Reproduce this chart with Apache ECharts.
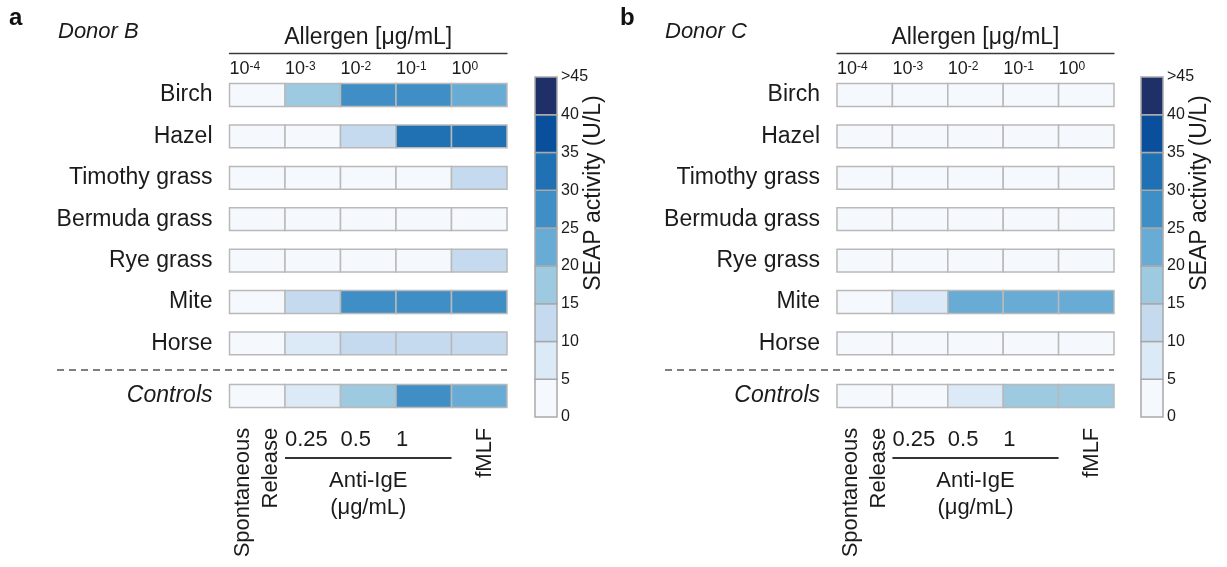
<!DOCTYPE html>
<html><head><meta charset="utf-8">
<script src="https://cdn.jsdelivr.net/npm/echarts@6/dist/echarts.min.js"></script>
<style>html,body{margin:0;padding:0;background:#fff}#c{width:1227px;height:567px}</style>
</head><body><div id="c"></div>
<script>
// ---------------- data ----------------
const allergens = ['Birch', 'Hazel', 'Timothy grass', 'Bermuda grass', 'Rye grass', 'Mite', 'Horse'];
const concExponents = ['-4', '-3', '-2', '-1', '0'];
const controlRow = ['Controls'];
const antiIgeLabels = ['0.25', '0.5', '1'];          // control columns 2..4
const rotatedControlLabels = ['Spontaneous\nRelease', 'fMLF']; // control columns 1 and 5
// SEAP activity (U/L), rows = allergens, columns = 10^-4 .. 10^0 µg/mL
const donorB = [
  [2, 17, 27, 27, 22],
  [2, 3, 12, 32, 33],
  [1, 2, 2, 3, 12],
  [1, 1, 2, 2, 2],
  [2, 2, 2, 3, 12],
  [3, 13, 28, 28, 28],
  [3, 8, 12, 13, 12]
];
const donorBControls = [2, 8, 18, 28, 23];
const donorC = [
  [1, 1, 2, 1, 2],
  [1, 2, 1, 2, 2],
  [1, 1, 1, 2, 2],
  [1, 1, 1, 1, 1],
  [1, 1, 2, 1, 2],
  [2, 8, 23, 22, 23],
  [1, 2, 2, 2, 2]
];
const donorCControls = [1, 2, 8, 17, 17];
const scaleBreaks = [0, 5, 10, 15, 20, 25, 30, 35, 40, 45];
const scaleColors = ['#f5f9fe', '#dce9f6', '#c5daee', '#9dc9e1', '#68acd6', '#3f8fc6', '#2070b4', '#0a4f9b', '#1f3068'];

// ---------------- layout ----------------
const FONT = '"Liberation Sans", Arial, Helvetica, sans-serif';
const TXT = '#1b1b1b';
const ROW_TOP = 74.3, BAND = 41.4, CTRL_TOP = 375.3, CB_TOP = 77, CB_H = 340, CB_W = 22, CELL_FRAC = 0.55;
const panels = [
  { hmLeft: 229.5, hmWidth: 277.5, cbLeft: 535, letter: 'a', letterX: 9, donor: 'Donor B', donorX: 58, dashX0: 57, data: donorB, ctrl: donorBControls },
  { hmLeft: 837, hmWidth: 277, cbLeft: 1141, letter: 'b', letterX: 620, donor: 'Donor C', donorX: 665, dashX0: 665, data: donorC, ctrl: donorCControls }
];

function cellRender(params, api) {
  const c = api.value(0), r = api.value(1);
  const p0 = api.coord([c, r]);
  const p1 = api.coord([c + 1, r]);
  const h = api.size([0, 1])[1] * CELL_FRAC;
  return {
    type: 'rect',
    shape: { x: p0[0], y: p0[1] - h / 2, width: p1[0] - p0[0], height: h },
    style: { fill: api.visual('color'), stroke: '#b9b9b9', lineWidth: 1.5 }
  };
}
function barRender(params, api) {
  const lo = api.value(1), hi = api.value(2), idx = api.value(3);
  const p0 = api.coord([0, lo]);
  const p1 = api.coord([0, hi]);
  const w = api.size([1, 0])[0];
  return {
    type: 'rect',
    shape: { x: p0[0] - w / 2, y: p1[1], width: w, height: p0[1] - p1[1] },
    style: { fill: scaleColors[idx], stroke: '#a9a9a9', lineWidth: 1.5 }
  };
}

const grid = [], xAxis = [], yAxis = [], series = [], graphic = [], heatSeries = [];
panels.forEach((p, k) => {
  const g0 = grid.length;
  grid.push({ left: p.hmLeft, top: ROW_TOP, width: p.hmWidth, height: BAND * allergens.length, outerBoundsMode: 'none', containLabel: false });
  grid.push({ left: p.hmLeft, top: CTRL_TOP, width: p.hmWidth, height: BAND, outerBoundsMode: 'none', containLabel: false });
  grid.push({ left: p.cbLeft, top: CB_TOP, width: CB_W, height: CB_H, outerBoundsMode: 'none', containLabel: false });

  const x0 = xAxis.length;
  // allergen concentration axis (top)
  xAxis.push({
    type: 'value', gridIndex: g0, min: 0, max: 5, interval: 1, position: 'top', offset: 21,
    axisLine: { show: true, onZero: false, lineStyle: { color: '#3a3a3a', width: 1.3 } },
    axisTick: { show: false }, splitLine: { show: false },
    axisLabel: {
      inside: true, margin: 7, align: 'left', showMinLabel: true, showMaxLabel: true,
      formatter: v => (v < 5 ? '{b|10}{s|' + concExponents[v] + '}' : ''),
      rich: {
        b: { fontSize: 18, fontFamily: FONT, color: TXT },
        s: { fontSize: 12, fontFamily: FONT, color: TXT, verticalAlign: 'top', lineHeight: 10 }
      }
    },
    name: 'Allergen [μg/mL]', nameLocation: 'middle', nameGap: 4, nameMoveOverlap: false,
    nameTextStyle: { fontSize: 23, fontFamily: FONT, color: TXT, verticalAlign: 'bottom' }
  });
  // control labels, rotated
  xAxis.push({
    type: 'value', gridIndex: g0 + 1, min: 0, max: 5, interval: 0.1, position: 'bottom',
    axisLine: { show: false }, axisTick: { show: false }, splitLine: { show: false },
    axisLabel: {
      rotate: 90, margin: 11, fontSize: 22, fontFamily: FONT, color: TXT, lineHeight: 28,
      showMinLabel: true, showMaxLabel: true,
      formatter: v => (Math.abs(v - 0.5) < 1e-6 ? rotatedControlLabels[0] : (Math.abs(v - 4.6) < 1e-6 ? rotatedControlLabels[1] : ''))
    }
  });
  // control labels, horizontal (anti-IgE doses)
  xAxis.push({
    type: 'value', gridIndex: g0 + 1, min: 0, max: 5, interval: 1, position: 'bottom',
    axisLine: { show: false }, axisTick: { show: false }, splitLine: { show: false },
    axisLabel: {
      margin: 12, align: 'left', fontSize: 22, fontFamily: FONT, color: TXT,
      formatter: v => (v >= 1 && v <= 3 ? antiIgeLabels[v - 1] : '')
    }
  });
  // colour bar x
  xAxis.push({ type: 'category', gridIndex: g0 + 2, data: [''], show: false });

  const y0 = yAxis.length;
  yAxis.push({
    type: 'category', gridIndex: g0, data: allergens, inverse: true,
    axisLine: { show: false }, axisTick: { show: false }, splitLine: { show: false },
    axisLabel: { margin: 17, fontSize: 23, fontFamily: FONT, color: TXT }
  });
  yAxis.push({
    type: 'category', gridIndex: g0 + 1, data: controlRow,
    axisLine: { show: false }, axisTick: { show: false }, splitLine: { show: false },
    axisLabel: { margin: 17, fontSize: 23, fontFamily: FONT, color: TXT, fontStyle: 'italic' }
  });
  yAxis.push({
    type: 'value', gridIndex: g0 + 2, min: 0, max: 45, interval: 5, position: 'right',
    axisLine: { show: false }, axisTick: { show: false }, splitLine: { show: false },
    axisLabel: { margin: 4, fontSize: 16, fontFamily: FONT, color: TXT, formatter: v => (v === 45 ? '>45' : String(v)) },
    name: 'SEAP activity (U/L)', nameLocation: 'middle', nameGap: 25, nameMoveOverlap: false,
    nameTextStyle: { fontSize: 23, fontFamily: FONT, color: TXT, padding: [0, 0, 0, 108] }
  });

  const heatData = [];
  p.data.forEach((row, r) => row.forEach((v, c) => heatData.push([c, r, v])));
  heatSeries.push(series.length);
  series.push({ type: 'custom', xAxisIndex: x0, yAxisIndex: y0, renderItem: cellRender, data: heatData, encode: { x: 0, y: 1 }, clip: false });
  heatSeries.push(series.length);
  series.push({ type: 'custom', xAxisIndex: x0 + 1, yAxisIndex: y0 + 1, renderItem: cellRender, data: p.ctrl.map((v, c) => [c, 0, v]), encode: { x: 0, y: 1 }, clip: false });
  series.push({
    type: 'custom', xAxisIndex: x0 + 3, yAxisIndex: y0 + 2, renderItem: barRender, clip: false,
    data: scaleColors.map((col, i) => [0, scaleBreaks[i], scaleBreaks[i + 1], i]), encode: { x: 0, y: [1, 2] }
  });

  // annotations
  const colW = p.hmWidth / 5;
  graphic.push({ type: 'text', left: p.letterX, top: 6, style: { text: p.letter, font: 'bold 24px ' + FONT, fill: '#111' } });
  graphic.push({ type: 'text', left: p.donorX, top: 21, style: { text: p.donor, font: 'italic 22px ' + FONT, fill: TXT } });
  graphic.push({ type: 'line', shape: { x1: p.dashX0, y1: 370, x2: p.hmLeft + p.hmWidth, y2: 370 }, style: { stroke: '#555', lineWidth: 1.5, lineDash: [7, 5] } });
  graphic.push({ type: 'line', shape: { x1: p.hmLeft + colW, y1: 458, x2: p.hmLeft + 4 * colW, y2: 458 }, style: { stroke: '#333', lineWidth: 2 } });
  graphic.push({ type: 'text', x: p.hmLeft + 2.5 * colW, y: 467, style: { text: 'Anti-IgE\n(μg/mL)', font: '22px ' + FONT, fill: TXT, align: 'center', verticalAlign: 'top', lineHeight: 27 } });
});

const visualPieces = scaleColors.map((col, i) => (i < scaleColors.length - 1 ? { gte: scaleBreaks[i], lt: scaleBreaks[i + 1], color: col } : { gte: scaleBreaks[i], color: col }));

const chart = echarts.init(document.getElementById('c'), null, { renderer: 'canvas' });
chart.setOption({
  animation: false,
  backgroundColor: '#fff',
  textStyle: { fontFamily: FONT },
  grid, xAxis, yAxis, series, graphic,
  visualMap: { type: 'piecewise', show: false, dimension: 2, seriesIndex: heatSeries, pieces: visualPieces }
});
</script></body></html>
